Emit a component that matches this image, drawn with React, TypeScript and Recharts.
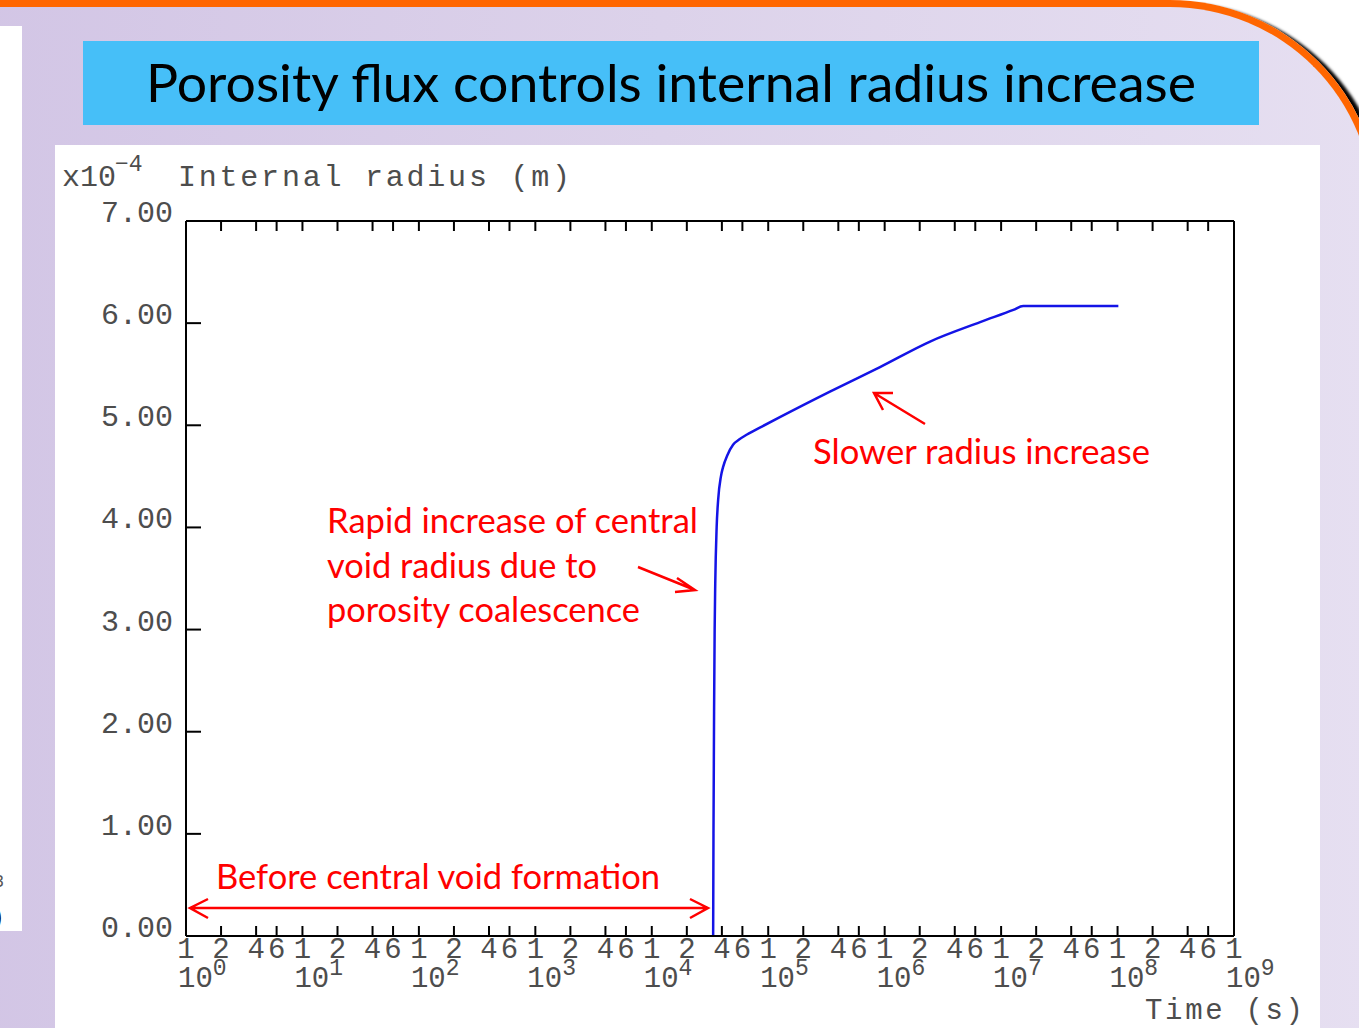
import React from "react";
import { LineChart, Line, XAxis, YAxis } from "recharts";

// internal radius (x1e-4 m) against time (s)
const timeS = [
  33650, 33880, 34280, 34670, 35080, 36060, 37150, 39260, 40930, 44670, 49890,
  56230, 65770, 89130, 125900, 338800, 912000, 2455000, 6607000, 12740000,
  15490000, 101600000,
];
const radius = [
  0, 1.0, 2.2, 3.0, 3.45, 4.0, 4.27, 4.5, 4.59, 4.71, 4.81, 4.86, 4.91, 4.99,
  5.08, 5.33, 5.57, 5.82, 6.01, 6.13, 6.168, 6.168,
];

const yTicks = [0, 1, 2, 3, 4, 5, 6, 7];
const tickMantissas = [1, 2, 4, 6];
const tickDecades = [0, 1, 2, 3, 4, 5, 6, 7, 8];
const xTicks = tickDecades
  .flatMap((d) => tickMantissas.map((m) => m * 10 ** d))
  .concat([1e9]);

const data = timeS.map((t, i) => ({ t, r: radius[i] }));

const MONO = "'Liberation Mono', 'DejaVu Sans Mono', monospace";
const TEXT_GREY = "#4d4d4d";
const RED = "#ff0000";

function splitTick(v: number) {
  const e = Math.floor(Math.log10(v) + 1e-9);
  const m = Math.round(v / 10 ** e);
  return { e, m };
}

function BottomTick(props: any) {
  const { x, y, payload } = props;
  const { e, m } = splitTick(payload.value);
  return (
    <g>
      <line x1={x} y1={y} x2={x} y2={y - 10} stroke="#000" strokeWidth={2} />
      <text x={x} y={y + 22} textAnchor="middle" fontFamily={MONO} fontSize={29} fill={TEXT_GREY}>
        {m}
      </text>
      {m === 1 && (
        <text x={x - 8} y={y + 51} fontFamily={MONO} fontSize={29} fill={TEXT_GREY}>
          10
          <tspan dy={-12} fontSize={23}>
            {e}
          </tspan>
        </text>
      )}
    </g>
  );
}

function TopTick(props: any) {
  const { x, y } = props;
  return <line x1={x} y1={y} x2={x} y2={y + 10} stroke="#000" strokeWidth={2} />;
}

function LeftTick(props: any) {
  const { x, y, payload } = props;
  return (
    <g>
      <line x1={x} y1={y} x2={x + 15} y2={y} stroke="#000" strokeWidth={2} />
      <text x={x - 13} y={y + 1} textAnchor="end" fontFamily={MONO} fontSize={30} fill={TEXT_GREY}>
        {payload.value.toFixed(2)}
      </text>
    </g>
  );
}

function RightTick(props: any) {
  const { x, y } = props;
  return <line x1={x} y1={y} x2={x - 15} y2={y} stroke="#000" strokeWidth={2} />;
}

const axisLine = { stroke: "#000", strokeWidth: 2 };

function Annotations() {
  const redText = { fontFamily: "Lato, 'Noto Sans', sans-serif", fontSize: 34, fill: RED };
  const arrow = { stroke: RED, strokeWidth: 2.5, fill: "none" };
  return (
    <svg
      width={1359}
      height={1028}
      style={{ position: "absolute", left: 0, top: 0, pointerEvents: "none" }}
    >
      {/* axis captions */}
      <text x={62} y={186} fontFamily={MONO} fontSize={30} fill={TEXT_GREY}>
        x10
      </text>
      <text x={115} y={171} fontFamily={MONO} fontSize={23} fill={TEXT_GREY}>
        −4
      </text>
      <text x={178} y={186} fontFamily={MONO} fontSize={30} fill={TEXT_GREY} textLength={392}>
        Internal radius (m)
      </text>
      <text x={1145} y={1019} fontFamily={MONO} fontSize={29} fill={TEXT_GREY} textLength={158}>
        Time (s)
      </text>

      {/* red notes */}
      <text x={813} y={464} {...redText} textLength={337} lengthAdjust="spacingAndGlyphs">
        Slower radius increase
      </text>
      <text x={327} y={533} {...redText} textLength={371} lengthAdjust="spacingAndGlyphs">
        Rapid increase of central
      </text>
      <text x={327} y={578} {...redText} textLength={270} lengthAdjust="spacingAndGlyphs">
        void radius due to
      </text>
      <text x={327} y={622} {...redText} textLength={313} lengthAdjust="spacingAndGlyphs">
        porosity coalescence
      </text>
      <text x={216} y={889} {...redText} textLength={444} lengthAdjust="spacingAndGlyphs">
        Before central void formation
      </text>

      {/* arrows */}
      <path d="M190 908 L708 908 M208 899 L190 908 L208 918 M690 899 L708 908 L690 918" {...arrow} />
      <path d="M638 567 L695 590 M677 578 L695 590 L675 592" {...arrow} />
      <path d="M925 424 L874 393 M893 393 L874 393 L883 410" {...arrow} />
    </svg>
  );
}

export default function App() {
  return (
    <div
      style={{
        position: "absolute",
        left: 0,
        top: 0,
        width: 1359,
        height: 1028,
        overflow: "hidden",
        background: "#fff",
      }}
    >
      {/* slide frame */}
      <div
        style={{
          position: "absolute",
          left: -50,
          top: 0,
          width: 1423,
          height: 1200,
          background: "linear-gradient(90deg, #d2c5e5 0%, #dcd2ea 50%, #e6dff1 100%)",
          borderTop: "7px solid #ff6600",
          borderRight: "7px solid #ff6600",
          borderTopRightRadius: 210,
          boxShadow: "7px 3px 3px #000",
        }}
      />
      {/* neighbouring slide edge */}
      <div
        style={{
          position: "absolute",
          left: 0,
          top: 26,
          width: 22,
          height: 905,
          background: "#fff",
          overflow: "hidden",
          fontFamily: "'DejaVu Sans', sans-serif",
        }}
      >
        <span style={{ position: "absolute", left: -6, top: 846, fontSize: 16, color: "#555" }}>3</span>
        <span style={{ position: "absolute", left: -9, top: 872, fontSize: 32, color: "#000" }}>)</span>
      </div>
      {/* title */}
      <div
        style={{
          position: "absolute",
          left: 83,
          top: 41,
          width: 1176,
          height: 84,
          background: "#46bff8",
        }}
      >
        <svg width={1176} height={84}>
          <text
            x={63}
            y={61}
            fontFamily="Lato, 'Open Sans', sans-serif"
            fontSize={52}
            fill="#000"
            textLength={1050}
            lengthAdjust="spacingAndGlyphs"
          >
            Porosity flux controls internal radius increase
          </text>
        </svg>
      </div>
      {/* chart panel */}
      <div
        style={{
          position: "absolute",
          left: 55,
          top: 145,
          width: 1265,
          height: 900,
          background: "#fff",
        }}
      />
      <div style={{ position: "absolute", left: 0, top: 0 }}>
        <LineChart
          width={1359}
          height={1028}
          data={data}
          margin={{ top: 220, right: 124, bottom: 32, left: 126 }}
        >
          <XAxis
            dataKey="t"
            type="number"
            scale="log"
            domain={[1, 1e9]}
            ticks={xTicks}
            interval={0}
            allowDataOverflow
            height={60}
            tickSize={0}
            tickMargin={0}
            tickLine={false}
            axisLine={axisLine}
            tick={<BottomTick />}
          />
          <XAxis
            xAxisId="top"
            orientation="top"
            dataKey="t"
            type="number"
            scale="log"
            domain={[1, 1e9]}
            ticks={xTicks}
            interval={0}
            allowDataOverflow
            height={1}
            tickSize={0}
            tickMargin={0}
            tickLine={false}
            axisLine={axisLine}
            tick={<TopTick />}
          />
          <YAxis
            domain={[0, 7]}
            ticks={yTicks}
            interval={0}
            width={60}
            tickSize={0}
            tickMargin={0}
            tickLine={false}
            axisLine={axisLine}
            tick={<LeftTick />}
          />
          <YAxis
            yAxisId="right"
            orientation="right"
            domain={[0, 7]}
            ticks={yTicks}
            interval={0}
            width={1}
            tickSize={0}
            tickMargin={0}
            tickLine={false}
            axisLine={axisLine}
            tick={<RightTick />}
          />
          <Line
            dataKey="r"
            type="monotone"
            stroke="#1414e6"
            strokeWidth={2.5}
            dot={false}
            isAnimationActive={false}
          />
        </LineChart>
      </div>
      <Annotations />
    </div>
  );
}
